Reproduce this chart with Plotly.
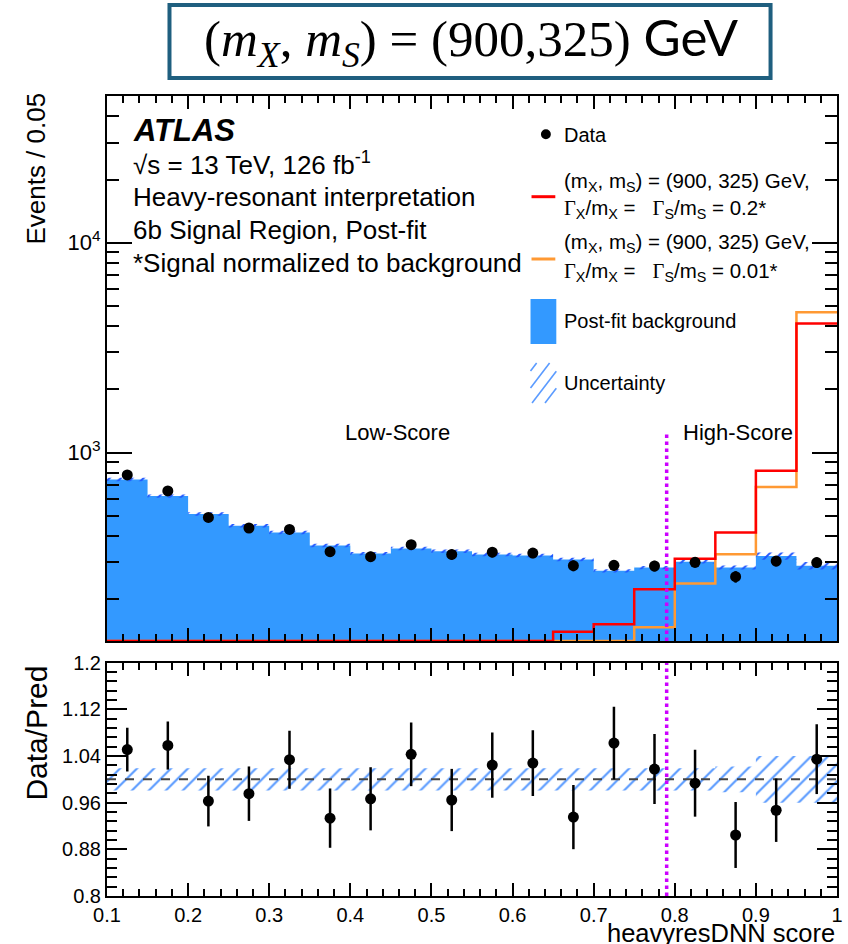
import math
import plotly.graph_objects as go

# ---------------------------------------------------------------------------
# heavyresDNN score distribution, 6b signal region (post-fit), bin width 0.05
# ---------------------------------------------------------------------------
edges = [0.10, 0.15, 0.20, 0.25, 0.30, 0.35, 0.40, 0.45, 0.50, 0.55,
         0.60, 0.65, 0.70, 0.75, 0.80, 0.85, 0.90, 0.95, 1.00]

# post-fit background yield per bin
bkg = [744, 620, 510, 448, 416, 361, 330, 349, 339, 327,
       323, 309, 273, 283, 302, 283, 321, 289]
# observed events per bin
data = [782, 656, 491, 437, 430, 337, 319, 364, 327, 335,
        332, 289, 290, 288, 300, 256, 304, 299]
# relative background uncertainty per bin
bkg_unc = [0.019, 0.019, 0.019, 0.019, 0.019, 0.019, 0.019, 0.019, 0.019, 0.019,
           0.019, 0.019, 0.019, 0.019, 0.019, 0.022, 0.040, 0.040]
# signal (mX, mS) = (900, 325) GeV, normalised to background
sig_wide = [0, 0, 0, 0, 0, 0, 0, 0, 0, 0,
            0, 140, 152, 223, 312, 416, 818, 4115]     # Gamma/m = 0.2
sig_narrow = [0, 0, 0, 0, 0, 0, 0, 0, 0, 0,
              0, 0, 0, 147, 238, 328, 686, 4660]       # Gamma/m = 0.01

cut_value = 0.79      # Low-/High-Score boundary
cut_line_top = 1250   # height of the boundary marker in the upper pad

x_tick_vals = [0.1, 0.2, 0.3, 0.4, 0.5, 0.6, 0.7, 0.8, 0.9, 1.0]
x_tick_text = ["0.1", "0.2", "0.3", "0.4", "0.5", "0.6", "0.7", "0.8", "0.9", "1"]
ratio_tick_vals = [0.8, 0.88, 0.96, 1.04, 1.12, 1.2]
ratio_tick_text = ["0.8", "0.88", "0.96", "1.04", "1.12", "1.2"]
log_tick_vals = [1e3, 1e4]
log_tick_text = ["10<sup>3</sup>", "10<sup>4</sup>"]
log_minor_vals = [200, 300, 400, 500, 600, 700, 800, 900,
                  2000, 3000, 4000, 5000, 6000, 7000, 8000, 9000,
                  20000, 30000, 40000, 50000]

# ---------------------------------------------------------------------------
Y_LOG_RANGE = [2.102, 4.699]
y_floor = 10 ** Y_LOG_RANGE[0]

centers = [(a + b) / 2 for a, b in zip(edges[:-1], edges[1:])]
ratio = [d / b for d, b in zip(data, bkg)]
ratio_err = [math.sqrt(d) / b for d, b in zip(data, bkg)]
data_err = [math.sqrt(d) for d in data]


def step(vals):
    """x/y arrays for an 'hv' step outline over the bin edges."""
    v = list(vals)
    return edges, v + [v[-1]]


def on_log(vals):
    """Empty bins sit on the lower edge of the log pad."""
    return [v if v > 0 else y_floor for v in vals]


BLUE = "#3399ff"
RED = "#ff0000"
ORANGE = "#ff9933"
HATCH = "#5b9bff"
MAGENTA = "#cc00ff"
FONT = "Liberation Sans"

fig = go.Figure()

# ----------------------------- upper pad -----------------------------------
xs, ys = step([y_floor / 10] * len(bkg))
fig.add_trace(go.Scatter(x=xs, y=ys, mode="lines", line=dict(width=0),
                         line_shape="hv", xaxis="x", yaxis="y", showlegend=False))
xs, ys = step(bkg)
fig.add_trace(go.Scatter(x=xs, y=ys, mode="lines", line=dict(width=0, color=BLUE),
                         line_shape="hv", fill="tonexty", fillcolor=BLUE,
                         xaxis="x", yaxis="y", showlegend=False))
xs, ys = step([b * (1 - u) for b, u in zip(bkg, bkg_unc)])
fig.add_trace(go.Scatter(x=xs, y=ys, mode="lines", line=dict(width=0),
                         line_shape="hv", xaxis="x", yaxis="y", showlegend=False))
xs, ys = step([b * (1 + u) for b, u in zip(bkg, bkg_unc)])
fig.add_trace(go.Scatter(x=xs, y=ys, mode="lines", line=dict(width=0),
                         line_shape="hv", fill="tonexty", fillcolor="rgba(0,0,0,0)",
                         fillpattern=dict(shape="/", fgcolor="#1f55ff", bgcolor="rgba(0,0,0,0)",
                                          size=8, solidity=0.25, fillmode="replace"),
                         xaxis="x", yaxis="y", showlegend=False))

xs, ys = step(on_log(sig_narrow))
fig.add_trace(go.Scatter(x=xs, y=ys, mode="lines", line=dict(width=2.5, color=ORANGE),
                         line_shape="hv", xaxis="x", yaxis="y", showlegend=False))
xs, ys = step(on_log(sig_wide))
fig.add_trace(go.Scatter(x=xs, y=ys, mode="lines", line=dict(width=2.5, color=RED),
                         line_shape="hv", xaxis="x", yaxis="y", showlegend=False))

fig.add_trace(go.Scatter(x=[cut_value, cut_value], y=[y_floor, cut_line_top], mode="lines",
                         line=dict(width=3.5, color=MAGENTA, dash="dot"),
                         xaxis="x", yaxis="y", showlegend=False))

fig.add_trace(go.Scatter(x=centers, y=data, mode="markers",
                         marker=dict(size=11, color="black"),
                         error_y=dict(type="data", array=data_err, color="black",
                                      thickness=2.5, width=0),
                         xaxis="x", yaxis="y", showlegend=False))

# ----------------------------- ratio pad -----------------------------------
xs, ys = step([1 - u for u in bkg_unc])
fig.add_trace(go.Scatter(x=xs, y=ys, mode="lines", line=dict(width=0),
                         line_shape="hv", xaxis="x2", yaxis="y2", showlegend=False))
xs, ys = step([1 + u for u in bkg_unc])
fig.add_trace(go.Scatter(x=xs, y=ys, mode="lines", line=dict(width=0),
                         line_shape="hv", fill="tonexty", fillcolor="rgba(0,0,0,0)",
                         fillpattern=dict(shape="/", fgcolor=HATCH, bgcolor="rgba(0,0,0,0)",
                                          size=12, solidity=0.18, fillmode="replace"),
                         xaxis="x2", yaxis="y2", showlegend=False))

fig.add_trace(go.Scatter(x=[edges[0], edges[-1]], y=[1, 1], mode="lines",
                         line=dict(width=2, color="#444444", dash="dash"),
                         xaxis="x2", yaxis="y2", showlegend=False))
fig.add_trace(go.Scatter(x=[cut_value, cut_value], y=[ratio_tick_vals[0], ratio_tick_vals[-1]],
                         mode="lines", line=dict(width=3.5, color=MAGENTA, dash="dot"),
                         xaxis="x2", yaxis="y2", showlegend=False))
fig.add_trace(go.Scatter(x=centers, y=ratio, mode="markers",
                         marker=dict(size=11, color="black"),
                         error_y=dict(type="data", array=ratio_err, color="black",
                                      thickness=2.5, width=0),
                         xaxis="x2", yaxis="y2", showlegend=False))

# ----------------------------- layout --------------------------------------
W, H = 848, 944
ML, MR, MT, MB = 107, 5, 96, 48


def px(x):
    return (x - ML) / (W - ML - MR)


def py(y):
    return (H - MB - y) / (H - MT - MB)


frame = dict(showline=True, linecolor="black", linewidth=2, mirror="ticks",
             showgrid=False, zeroline=False, ticks="inside", tickcolor="black",
             tickwidth=1.5)

fig.update_layout(
    width=W, height=H,
    margin=dict(l=ML, r=MR, t=MT, b=MB),
    paper_bgcolor="white", plot_bgcolor="white",
    font=dict(family=FONT, size=20, color="black"),
    xaxis=dict(domain=[0, 1], anchor="y", range=[edges[0], edges[-1]],
               tickvals=x_tick_vals, showticklabels=False, ticklen=13,
               minor=dict(ticks="inside", ticklen=7, dtick=0.02, tick0=0.1,
                          tickcolor="black", tickwidth=1.5),
               **frame),
    yaxis=dict(domain=[py(641), 1], anchor="x", type="log", range=Y_LOG_RANGE,
               tickvals=log_tick_vals, ticktext=log_tick_text, ticklen=25,
               tickfont=dict(size=22),
               minor=dict(ticks="inside", ticklen=12, tickvals=log_minor_vals,
                          tickcolor="black", tickwidth=1.5),
               **frame),
    xaxis2=dict(domain=[0, 1], anchor="y2", range=[edges[0], edges[-1]],
                tickvals=x_tick_vals, ticktext=x_tick_text, ticklen=13,
                minor=dict(ticks="inside", ticklen=7, dtick=0.02, tick0=0.1,
                           tickcolor="black", tickwidth=1.5),
                **frame),
    yaxis2=dict(domain=[0, py(662.7)], anchor="x2", range=[0.8, 1.2],
                tickvals=ratio_tick_vals, ticktext=ratio_tick_text, ticklen=20,
                minor=dict(ticks="inside", ticklen=10, dtick=0.016, tick0=0.8,
                           tickcolor="black", tickwidth=1.5),
                **frame),
)

ann = []
shapes = []


def text(x, y, s, size=20, xanchor="left", **kw):
    ann.append(dict(x=px(x), y=py(y), xref="paper", yref="paper", text=s,
                    showarrow=False, xanchor=xanchor, yanchor="middle",
                    font=dict(size=size, family=kw.pop("family", FONT), color="black"), **kw))


# title box
shapes.append(dict(type="rect", xref="paper", yref="paper",
                   x0=px(170), x1=px(776), y0=py(78), y1=py(5),
                   line=dict(color="#1f5f7f", width=4), fillcolor="white"))
text(474, 41,
     '(<i>m</i><sub><i>X</i></sub>, <i>m</i><sub><i>S</i></sub>) = (900,325) '
     '<span style="font-family:Lato">GeV</span>',
     size=51, xanchor="center", family="Liberation Serif")

# axis titles
ann.append(dict(x=px(35), y=py(169), xref="paper", yref="paper", text="Events / 0.05",
                textangle=-90, showarrow=False, xanchor="center", yanchor="middle",
                font=dict(size=26, family=FONT)))
ann.append(dict(x=px(35), y=py(733), xref="paper", yref="paper", text="Data/Pred",
                textangle=-90, showarrow=False, xanchor="center", yanchor="middle",
                font=dict(size=30, family=FONT)))
text(843, 933, "heavyresDNN score", size=25.5, xanchor="right")

# labels in the upper pad
text(131, 131, "<b><i>ATLAS</i></b>", size=31)
text(131, 164, "√s = 13 TeV, 126 fb<sup>-1</sup>", size=26)
text(131, 197, "Heavy-resonant interpretation", size=26)
text(131, 230, "6b Signal Region, Post-fit", size=26)
text(131, 263, "*Signal normalized to background", size=26)
text(400, 432, "Low-Score", size=22, xanchor="center")
text(743, 432, "High-Score", size=22, xanchor="center")

# legend
G = '<span style="font-family:Liberation Serif">Γ</span>'
mass_line = "(m<sub>X</sub>, m<sub>S</sub>) = (900, 325) GeV,"
shapes.append(dict(type="circle", xref="paper", yref="paper",
                   x0=px(544.5), x1=px(554.5), y0=py(139.3), y1=py(129.3),
                   fillcolor="black", line=dict(width=0)))
text(566, 135, "Data")

shapes.append(dict(type="line", xref="paper", yref="paper",
                   x0=px(535), x1=px(559), y0=py(196.7), y1=py(196.7),
                   line=dict(color=RED, width=3)))
text(566, 182, mass_line, size=20.5)
text(566, 209, f"{G}<sub>X</sub>/m<sub>X</sub> =&nbsp;&nbsp; {G}<sub>S</sub>/m<sub>S</sub> = 0.2*",
     size=20.5)

shapes.append(dict(type="line", xref="paper", yref="paper",
                   x0=px(535), x1=px(559), y0=py(259), y1=py(259),
                   line=dict(color=ORANGE, width=3)))
text(566, 243, mass_line, size=20.5)
text(566, 272, f"{G}<sub>X</sub>/m<sub>X</sub> =&nbsp;&nbsp; {G}<sub>S</sub>/m<sub>S</sub> = 0.01*",
     size=20.5)

shapes.append(dict(type="rect", xref="paper", yref="paper",
                   x0=px(534), x1=px(560), y0=py(344), y1=py(299),
                   fillcolor=BLUE, line=dict(width=0)))
text(566, 321, "Post-fit background")

# hatched swatch for the uncertainty entry
bx0, bx1, by0, by1 = 534, 560, 363, 403
slope = 1.3
c = by0 + 8
while c < by1 + (bx1 - bx0) * slope:
    xa = max(bx0, bx0 + (c - by1) / slope)
    xb = min(bx1, bx0 + (c - by0) / slope)
    if xb > xa:
        shapes.append(dict(type="line", xref="paper", yref="paper",
                           x0=px(xa), x1=px(xb),
                           y0=py(c - (xa - bx0) * slope), y1=py(c - (xb - bx0) * slope),
                           line=dict(color=HATCH, width=1.6)))
    c += 17
text(566, 383, "Uncertainty")

fig.update_layout(annotations=ann, shapes=shapes)

fig.write_html("out.html")
